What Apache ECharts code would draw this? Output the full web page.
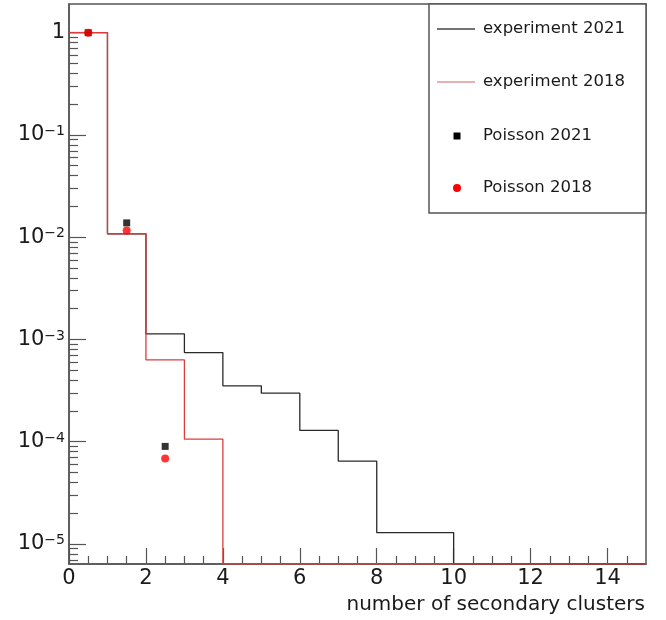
<!DOCTYPE html>
<html><head><meta charset="utf-8">
<script src="https://cdn.jsdelivr.net/npm/echarts@6/dist/echarts.min.js"></script>
<style>html,body{margin:0;padding:0;background:#fff}#c{width:666px;height:620px}</style>
</head><body><div id="c"></div>
<script>
// ---- data ----
const binEdges = [0,1,2,3,4,5,6,7,8,9,10,11,12,13,14,15];
const exp2021 = [1.0, 0.0108, 1.135e-3, 7.45e-4, 3.52e-4, 2.98e-4, 1.29e-4, 6.45e-5, 1.29e-5, 1.29e-5, 0, 0, 0, 0, 0];
const exp2018 = [1.0, 0.0108, 6.32e-4, 1.06e-4, 0, 0, 0, 0, 0, 0, 0, 0, 0, 0, 0];
const poissonX = [0.5, 1.5, 2.5];
const poisson2021 = [1.0, 0.0138, 9.0e-5];
const poisson2018 = [1.0, 0.0116, 6.84e-5];
const xMajorTicks = [0,2,4,6,8,10,12,14];
const xMinorTicks = [0.5,1,1.5,2.5,3,3.5,4.5,5,5.5,6.5,7,7.5,8.5,9,9.5,10.5,11,11.5,12.5,13,13.5,14.5];
const yMajorTicks = [1e-5,1e-4,1e-3,1e-2,1e-1,1];
const legendNames = ['experiment 2021','experiment 2018','Poisson 2021','Poisson 2018'];
const xTitle = 'number of secondary clusters';
const X_MIN = 0, X_MAX = 15;
const Y_MIN = 6.37e-6, Y_MAX = 1.908;

// minor log ticks 2..9 per decade
const yMinorTicks = [];
for (let e = -6; e <= 0; e++) for (let m = 2; m <= 9; m++) {
  const v = m * Math.pow(10, e);
  if (v > Y_MIN && v < Y_MAX) yMinorTicks.push(v);
}

function stepData(vals) {
  const pts = vals.map((v, i) => [binEdges[i], v > 0 ? v : Y_MIN]);
  const last = vals[vals.length - 1];
  pts.push([binEdges[binEdges.length - 1], last > 0 ? last : Y_MIN]);
  return pts;
}

const FONT = 'DejaVu Sans';
const AX = '#555';
const TXT = '#1a1a1a';
const BLACK = '#2a2a2a';
const RED = '#dc3c3c';

const chart = echarts.init(document.getElementById('c'), null, {renderer: 'canvas'});

const legendRowsY = [29, 82, 136, 188];
const graphic = [{
  type: 'rect', z: 100,
  shape: {x: 429, y: 4, width: 217, height: 209},
  style: {fill: '#fff', stroke: AX, lineWidth: 1.5}
}];
legendNames.forEach((name, i) => {
  const y = legendRowsY[i];
  if (i === 0 || i === 1) {
    graphic.push({type: 'line', z: 101, shape: {x1: 437, y1: y, x2: 475, y2: y},
      style: {stroke: i === 0 ? '#444' : '#e69494', lineWidth: 1.3}});
  } else if (i === 2) {
    graphic.push({type: 'rect', z: 101, shape: {x: 453.5, y: y - 3.5, width: 7, height: 7}, style: {fill: '#000'}});
  } else {
    graphic.push({type: 'circle', z: 101, shape: {cx: 457, cy: y, r: 4}, style: {fill: '#f00'}});
  }
  graphic.push({type: 'text', z: 101, x: 483, y: y,
    style: {text: name, fontFamily: FONT, fontSize: 16.5, fill: TXT, align: 'left', verticalAlign: 'middle'}});
});

const option = {
  animation: false,
  backgroundColor: '#fff',
  grid: {left: 69, right: 20, top: 4, bottom: 56, show: true, borderColor: AX, borderWidth: 1.5, backgroundColor: 'transparent'},
  xAxis: [{
    type: 'value', min: X_MIN, max: X_MAX, position: 'bottom',
    axisLine: {show: true, onZero: false, lineStyle: {color: AX, width: 1.5}},
    axisTick: {show: true, inside: true, length: 16, customValues: xMajorTicks, lineStyle: {color: AX, width: 1.2}},
    axisLabel: {show: true, customValues: xMajorTicks, margin: 4, fontFamily: FONT, fontSize: 21, color: TXT},
    splitLine: {show: false},
    name: xTitle, nameLocation: 'end', nameGap: -1,
    nameTextStyle: {align: 'right', verticalAlign: 'top', padding: [31, 0, 0, 0], fontFamily: FONT, fontSize: 20, color: TXT}
  }, {
    type: 'value', min: X_MIN, max: X_MAX, position: 'bottom',
    axisLine: {show: false},
    axisTick: {show: true, inside: true, length: 8, customValues: xMinorTicks, lineStyle: {color: AX, width: 1.2}},
    axisLabel: {show: false},
    splitLine: {show: false}
  }],
  yAxis: [{
    type: 'log', logBase: 10, min: Y_MIN, max: Y_MAX, position: 'left',
    axisLine: {show: true, onZero: false, lineStyle: {color: AX, width: 1.5}},
    axisTick: {show: true, inside: true, length: 17, customValues: yMajorTicks, lineStyle: {color: AX, width: 1.2}},
    axisLabel: {
      show: true, customValues: yMajorTicks, margin: 4,
      formatter: function (v) {
        const e = Math.round(Math.log10(v));
        if (e === 0) return '{b|1}';
        return '{b|10}{s|' + (e < 0 ? '\u2212' : '') + Math.abs(e) + '}';
      },
      rich: {
        b: {fontFamily: FONT, fontSize: 21, color: TXT},
        s: {fontFamily: FONT, fontSize: 14, color: TXT, verticalAlign: 'top'}
      }
    },
    splitLine: {show: false}
  }, {
    type: 'log', logBase: 10, min: Y_MIN, max: Y_MAX, position: 'left',
    axisLine: {show: false},
    axisTick: {show: true, inside: true, length: 9, customValues: yMinorTicks, lineStyle: {color: AX, width: 1.2}},
    axisLabel: {show: false},
    splitLine: {show: false}
  }],
  series: [{
    name: legendNames[0], type: 'line', step: 'end', xAxisIndex: 0, yAxisIndex: 0,
    data: stepData(exp2021), showSymbol: false, symbol: 'none',
    lineStyle: {color: BLACK, width: 1.3}, z: 3
  }, {
    name: legendNames[1], type: 'line', step: 'end', xAxisIndex: 0, yAxisIndex: 0,
    data: stepData(exp2018), showSymbol: false, symbol: 'none',
    lineStyle: {color: RED, width: 1.3}, z: 4
  }, {
    name: legendNames[2], type: 'scatter', xAxisIndex: 0, yAxisIndex: 0,
    data: poissonX.map((x, i) => [x, poisson2021[i]]),
    symbol: 'rect', symbolSize: 7, itemStyle: {color: '#000'}, z: 5
  }, {
    name: legendNames[3], type: 'scatter', xAxisIndex: 0, yAxisIndex: 0,
    data: poissonX.map((x, i) => [x, poisson2018[i]]),
    symbol: 'circle', symbolSize: 8, itemStyle: {color: '#f00'}, z: 6
  }],
  graphic: graphic
};
chart.setOption(option);
</script>
</body></html>
